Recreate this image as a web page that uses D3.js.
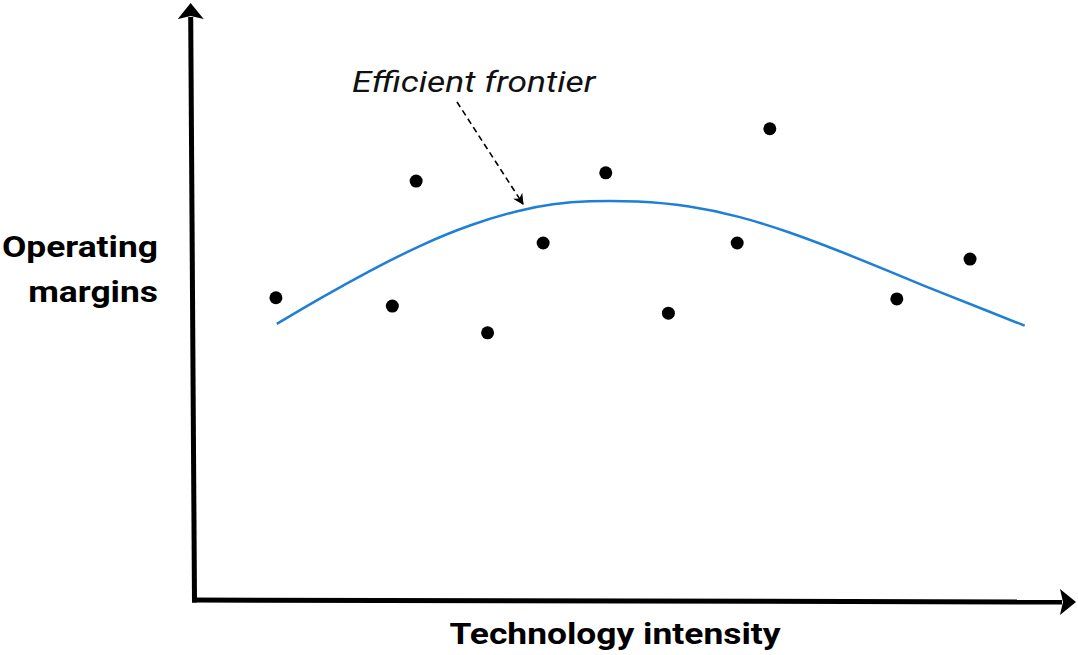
<!DOCTYPE html>
<html>
<head>
<meta charset="utf-8">
<script src="https://cdn.jsdelivr.net/npm/d3@7"></script>
<style>
  body { margin: 0; background: #fff; }
  .chart { width: 1078px; height: 655px; }
</style>
</head>
<body>
<div class="chart"></div>
<script>
// scattered companies (technology intensity, operating margin)
var pointX = [9.4, 22.6, 25.3, 33.4, 39.7, 46.8, 53.9, 61.7, 65.4, 79.8, 88.1];
var pointY = [50.8, 49.4, 70.4, 44.9, 60.0, 71.8, 48.2, 60.0, 79.2, 50.6, 57.3];

// efficient frontier curve
var frontierX = [9.5, 14.4, 20.1, 25.7, 31.4, 37.1, 40.8, 44.7, 50.3, 56.3, 62.0, 67.7, 73.4, 79.0, 84.7, 90.4, 94.3];
var frontierY = [46.4, 50.7, 55.4, 59.6, 63.1, 65.6, 66.6, 67.1, 67.1, 66.3, 64.5, 61.8, 58.6, 55.2, 51.7, 48.4, 46.1];

var xLabel = "Technology intensity";
var yLabel = ["Operating", "margins"];
var annotation = "Efficient frontier";

var width = 1078, height = 655;
var stretch = 1.18; // text in the picture is a bit wider than tall
var svg = d3.select(".chart").append("svg")
  .attr("width", width)
  .attr("height", height)
  .style("font-family", "Roboto, sans-serif");

var xScale = d3.scaleLinear().domain([0, 100]).range([193, 1075]);
var yScale = d3.scaleLinear().domain([0, 100]).range([600, 5]);

var defs = svg.append("defs");
defs.append("marker")
  .attr("id", "axisHead")
  .attr("viewBox", "0 0 16 26")
  .attr("refX", 2).attr("refY", 13)
  .attr("markerWidth", 16).attr("markerHeight", 26)
  .attr("markerUnits", "userSpaceOnUse")
  .attr("orient", "auto")
  .append("path")
  .attr("d", "M0,0 L16,13 L0,26 L3,13 Z")
  .attr("fill", "#000");
defs.append("marker")
  .attr("id", "noteHead")
  .attr("viewBox", "0 0 10 10")
  .attr("refX", 9).attr("refY", 5)
  .attr("markerWidth", 11).attr("markerHeight", 11)
  .attr("markerUnits", "userSpaceOnUse")
  .attr("orient", "auto")
  .append("path")
  .attr("d", "M0,0 L10,5 L0,10 L3,5 Z")
  .attr("fill", "#000");

// axes (line stops at the arrow base, head reaches the tip)
svg.append("line")
  .attr("x1", xScale(0) + 1.5).attr("y1", yScale(0) + 2.5)
  .attr("x2", xScale(0) - 2.3).attr("y2", yScale(100) + 12)
  .attr("stroke", "#000").attr("stroke-width", 5)
  .attr("marker-end", "url(#axisHead)");
svg.append("line")
  .attr("x1", xScale(0) - 1).attr("y1", yScale(0))
  .attr("x2", xScale(100) - 13).attr("y2", yScale(0) + 2)
  .attr("stroke", "#000").attr("stroke-width", 5)
  .attr("marker-end", "url(#axisHead)");

// frontier
var frontier = frontierX.map((d, i) => ({ x: d, y: frontierY[i] }));
var line = d3.line()
  .x(d => xScale(d.x))
  .y(d => yScale(d.y))
  .curve(d3.curveBasis);
svg.append("path")
  .datum(frontier)
  .attr("fill", "none")
  .attr("stroke", "#1f7fd6")
  .attr("stroke-width", 2.5)
  .attr("d", line);

// points
var points = pointX.map((d, i) => ({ x: d, y: pointY[i] }));
svg.append("g").selectAll("circle")
  .data(points)
  .join("circle")
  .attr("cx", d => xScale(d.x))
  .attr("cy", d => yScale(d.y))
  .attr("r", 6.5)
  .attr("fill", "#000");

// annotation
svg.append("text")
  .attr("transform", `translate(352,92) scale(${stretch},1)`)
  .attr("font-size", 30)
  .attr("font-style", "italic")
  .attr("fill", "#111")
  .text(annotation);
svg.append("line")
  .attr("x1", 457).attr("y1", 102)
  .attr("x2", 523).attr("y2", 204)
  .attr("stroke", "#000")
  .attr("stroke-width", 1.6)
  .attr("stroke-dasharray", "6,4")
  .attr("marker-end", "url(#noteHead)");

// axis titles
svg.append("text")
  .attr("transform", `translate(615,644) scale(${stretch},1)`)
  .attr("text-anchor", "middle")
  .attr("font-size", 30)
  .attr("font-weight", "bold")
  .text(xLabel);
svg.append("g").selectAll("text")
  .data(yLabel)
  .join("text")
  .attr("transform", (d, i) => `translate(158,${257 + i * 45}) scale(${stretch},1)`)
  .attr("text-anchor", "end")
  .attr("font-size", 30)
  .attr("font-weight", "bold")
  .text(d => d);
</script>
</body>
</html>
